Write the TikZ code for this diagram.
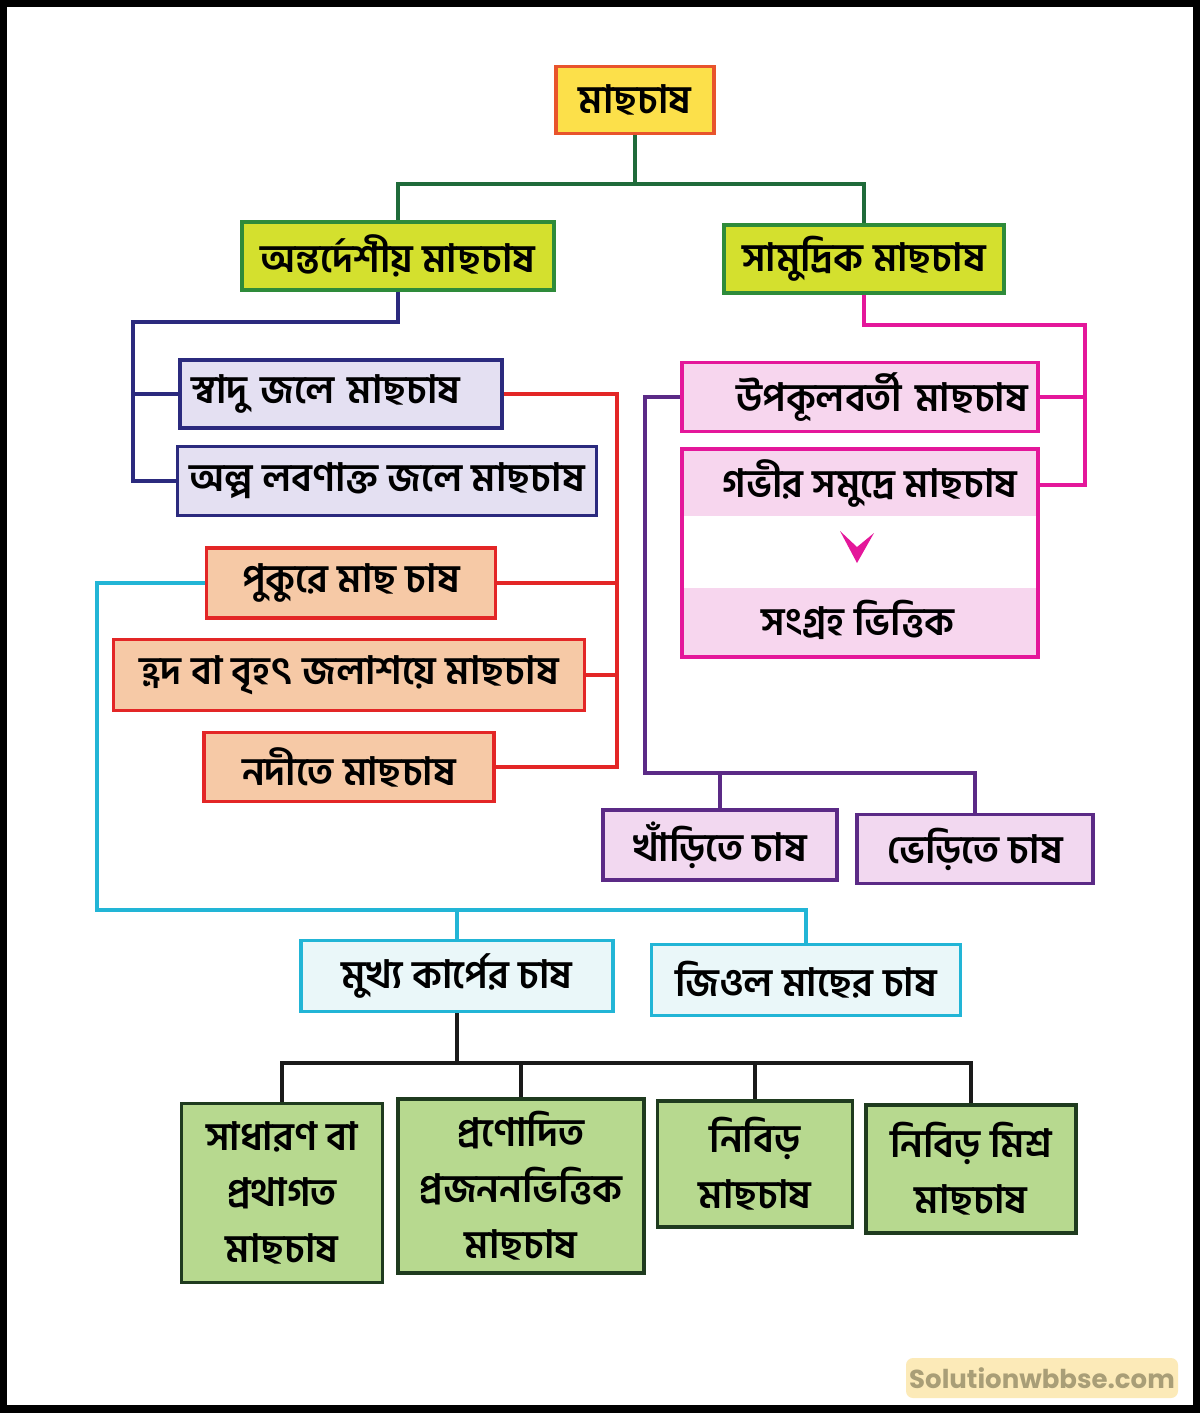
\documentclass[tikz,border=0pt]{standalone}
\usepackage{fontspec}
\newfontfamily\bn[Script=Bengali]{Hind Siliguri}
\newfontfamily\wmfont{Poppins}
\begin{document}
\begin{tikzpicture}[x=1pt,y=-1pt,
  every node/.style={font=\bn\bfseries\fontsize{39}{56}\selectfont, inner sep=0pt, align=center},
  bx/.style={draw, line width=3.2pt, rectangle},
  cn/.style={line width=3.4pt},
  topbox/.style={bx, fill=topfill, draw=topline},
  lvtwo/.style={bx, fill=lvfill, draw=lvline},
  navybox/.style={bx, fill=navyfill, draw=navyline},
  pinkbox/.style={bx, fill=pinkfill, draw=pinkline},
  redbox/.style={bx, fill=redfill, draw=redline},
  purbox/.style={bx, fill=purfill, draw=purline},
  cyanbox/.style={bx, fill=cyanfill, draw=cyanline},
  grbox/.style={bx, fill=grfill, draw=grline},
  plain/.style={draw=none, fill=none}
]
\definecolor{topfill}{HTML}{FCE04A}
\definecolor{topline}{HTML}{E8542C}
\definecolor{lvfill}{HTML}{D4E02E}
\definecolor{lvline}{HTML}{2E8B3A}
\definecolor{topconn}{HTML}{1F6B3A}
\definecolor{navyfill}{HTML}{E4E0F2}
\definecolor{navyline}{HTML}{2B2A7E}
\definecolor{pinkfill}{HTML}{F7D6EE}
\definecolor{pinkline}{HTML}{E4179A}
\definecolor{redfill}{HTML}{F6C9A6}
\definecolor{redline}{HTML}{E32626}
\definecolor{purfill}{HTML}{F2D8F0}
\definecolor{purline}{HTML}{5B2A86}
\definecolor{cyanfill}{HTML}{EAF7F9}
\definecolor{cyanline}{HTML}{22B5D6}
\definecolor{grfill}{HTML}{B7D98F}
\definecolor{grline}{HTML}{1F3B1F}
\definecolor{blk}{HTML}{1A1A1A}
\definecolor{wmfill}{HTML}{FCEAB8}
\definecolor{wmtext}{HTML}{A99E77}

% frame
\fill[black] (0,0) rectangle (1200,1413);
\fill[white] (7,7) rectangle (1193,1405);
\useasboundingbox (0,0) rectangle (1200,1413);

% nodes
\node[topbox, minimum width=158, minimum height=67] (top) at (635,100) {মাছচাষ};
\node[lvtwo, minimum width=312, minimum height=68] (inl) at (398,256) {অন্তর্দেশীয় মাছচাষ};
\node[lvtwo, minimum width=280, minimum height=68] (sea) at (864,259) {সামুদ্রিক মাছচাষ};

\node[navybox, minimum width=322, minimum height=68, text width=300, align=left] (fresh) at (341,394) {স্বাদু জলে মাছচাষ};
\node[navybox, minimum width=419, minimum height=69] (brack) at (387,481) {অল্প লবণাক্ত জলে মাছচাষ};

\node[pinkbox, minimum width=356, minimum height=69, text width=336, align=right] (coast) at (860,397) {উপকূলবর্তী মাছচাষ};
\node[pinkbox, minimum width=356, minimum height=208] (deep) at (860,553) {};
\fill[white] (684,516) rectangle (1036,588);
\fill[pinkline] (840,531) -- (857,547) -- (874,533) -- (857,563) -- cycle;
\node[plain] (deept) at (870,483) {গভীর সমুদ্রে মাছচাষ};
\node[plain] (coll) at (858,620) {সংগ্রহ ভিত্তিক};

\node[redbox, minimum width=289, minimum height=70] (pond) at (351,583) {পুকুরে মাছ চাষ};
\node[redbox, minimum width=471, minimum height=71] (lake) at (349,675) {হ্রদ বা বৃহৎ জলাশয়ে মাছচাষ};
\node[redbox, minimum width=290, minimum height=69] (river) at (349,767) {নদীতে মাছচাষ};

\node[purbox, minimum width=234, minimum height=70] (khari) at (720,845) {খাঁড়িতে চাষ};
\node[purbox, minimum width=236, minimum height=69] (bheri) at (975,849) {ভেড়িতে চাষ};

\node[cyanbox, minimum width=312, minimum height=71] (carp) at (457,976) {মুখ্য কার্পের চাষ};
\node[cyanbox, minimum width=309, minimum height=71] (jiol) at (806,980) {জিওল মাছের চাষ};

\node[grbox, minimum width=201, minimum height=179] (g1) at (282,1193) {সাধারণ বা\\প্রথাগত\\মাছচাষ};
\node[grbox, minimum width=246, minimum height=174] (g2) at (521,1186) {প্রণোদিত\\প্রজননভিত্তিক\\মাছচাষ};
\node[grbox, minimum width=195, minimum height=126] (g3) at (755,1164) {নিবিড়\\মাছচাষ};
\node[grbox, minimum width=210, minimum height=128] (g4) at (971,1169) {নিবিড় মিশ্র\\মাছচাষ};

% connectors
\coordinate (gj) at (635,184);
\draw[cn, topconn] (top.south) -- (gj) -| (inl.north);
\draw[cn, topconn] (gj) -| (sea.north);

\coordinate (nv) at (133,322);
\draw[cn, navyline] (inl.south) |- (nv) |- (brack.west);
\draw[cn, navyline] (nv) |- (fresh.west);

\coordinate (mg) at (1085,325);
\coordinate (deepr) at (1038,485);
\draw[cn, pinkline] (sea.south) |- (mg) |- (deepr);
\draw[cn, pinkline] (mg) |- (coast.east);

\coordinate (rd) at (617,394);
\draw[cn, redline] (fresh.east) -- (rd) |- (river.east);
\draw[cn, redline] (rd) |- (pond.east);
\draw[cn, redline] (rd) |- (lake.east);

\coordinate (pu) at (645,773);
\draw[cn, purline] (coast.west) -| (pu) -| (bheri.north);
\draw[cn, purline] (pu) -| (khari.north);

\coordinate (cy) at (97,910);
\draw[cn, cyanline] (pond.west) -| (cy) -| (jiol.north);
\draw[cn, cyanline] (cy) -| (carp.north);

\coordinate (bk) at (457,1063);
\draw[cn, blk] (carp.south) -- (bk) -| (g1.north);
\draw[cn, blk] (bk) -| (g2.north);
\draw[cn, blk] (bk) -| (g3.north);
\draw[cn, blk] (bk) -| (g4.north);

% watermark
\node[fill=wmfill, rounded corners=7pt, minimum width=272, minimum height=40, font=\wmfont\bfseries\fontsize{26}{30}\selectfont, text=wmtext] (wm) at (1042,1378) {Solutionwbbse.com};
\end{tikzpicture}
\end{document}
